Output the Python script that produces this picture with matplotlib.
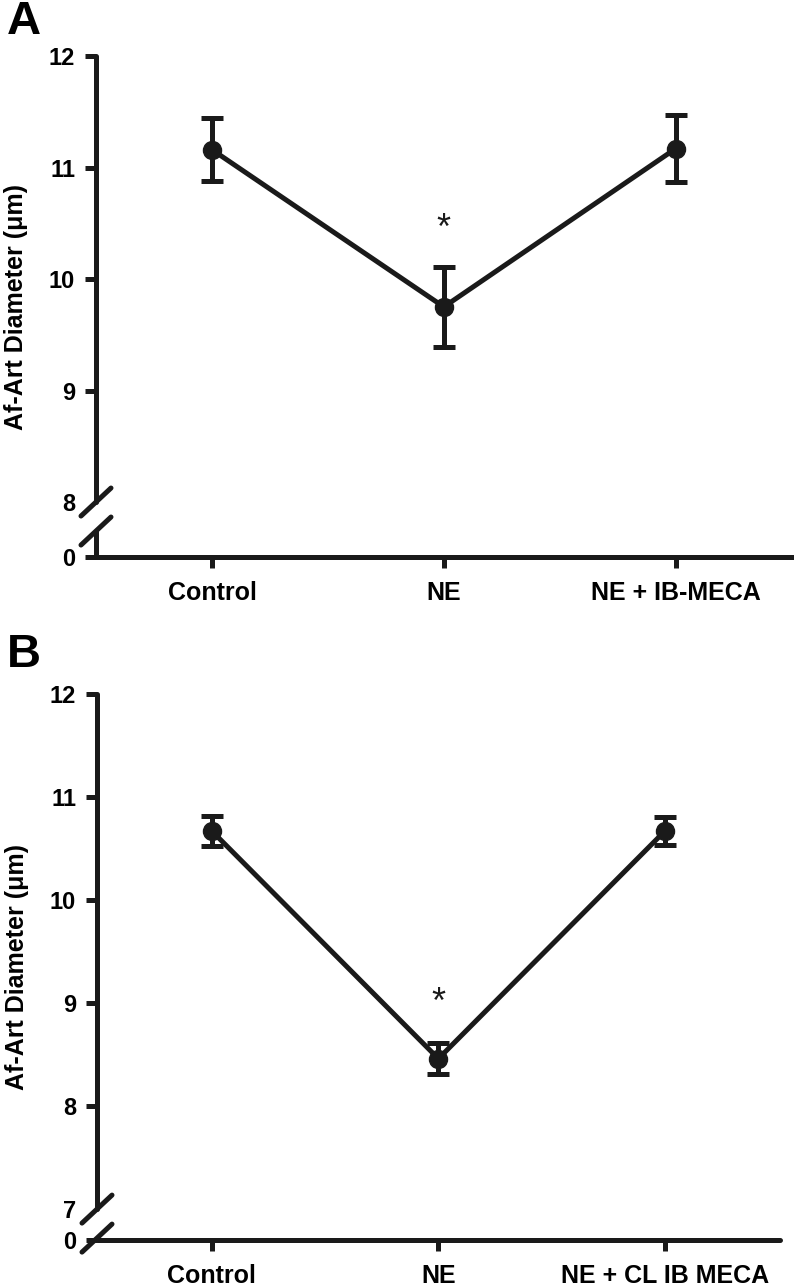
import matplotlib
matplotlib.use("Agg")
import matplotlib.pyplot as plt
import matplotlib.transforms as mtransforms

# panel A
groups_a = ["Control", "NE", "NE + IB-MECA"]
mean_a = [11.16, 9.75, 11.17]
sem_a = [0.28, 0.36, 0.30]
star_a = 10.44

# panel B
groups_b = ["Control", "NE", "NE + CL IB MECA"]
mean_b = [10.67, 8.46, 10.67]
sem_b = [0.15, 0.15, 0.14]
star_b = 9.0

W, H = 794, 1286
INK = "#1a1a1a"
LW = 3.6
plt.rcParams["font.family"] = ["Liberation Sans", "DejaVu Sans"]


def px_box(left, right, top, bottom):
    return [left / W, 1 - bottom / H, (right - left) / W, (bottom - top) / H]


def draw_panel(fig, box, groups, means, sems, star_y, ybot, ybreak, ytick_vals,
               xlim, letter, letter_xy, unit_px, ylab_x):
    ax = fig.add_axes(box)
    x = list(range(len(groups)))
    ax.errorbar(x, means, yerr=sems, fmt="-o", color=INK, lw=LW,
                ms=13, elinewidth=LW, capsize=8, capthick=LW,
                solid_capstyle="round")
    ax.text(1, star_y, "*", ha="center", va="center", fontsize=26, color=INK)

    ax.set_xlim(*xlim)
    ax.set_ylim(ybot, 12)
    for s in ["top", "right"]:
        ax.spines[s].set_visible(False)
    for s in ["left", "bottom"]:
        ax.spines[s].set_linewidth(LW)
        ax.spines[s].set_color(INK)
        ax.spines[s].set_capstyle("round")
    ax.spines["left"].set_bounds(ybreak, 12)

    ax.set_xticks(x)
    ax.set_xticklabels(groups, fontsize=18, fontweight="bold")
    ticks = [ybot, ybreak] + ytick_vals
    labels = ["0", str(int(ybreak))] + [str(v) for v in ytick_vals]
    ax.set_yticks(ticks)
    ax.set_yticklabels(labels, fontsize=17, fontweight="bold")
    ax.tick_params(axis="both", direction="out", length=8, width=LW, color=INK)
    ax.tick_params(axis="x", pad=9)
    ax.tick_params(axis="y", pad=7)
    ax.get_yticklines()[2].set_visible(False)

    ax.set_ylabel("Af-Art Diameter (\u03bcm)", fontsize=18, fontweight="bold")
    ax.yaxis.set_label_coords(ylab_x, 0.5)

    # axis break slashes on the y spine
    trans = mtransforms.blended_transform_factory(ax.transAxes, ax.transData)
    axw = box[2] * W
    dx = 15 / axw
    dy = 14 / unit_px
    low = ybreak - 29 / unit_px
    for yc in [ybreak, low]:
        ax.plot([-dx, dx], [yc - dy, yc + dy], transform=trans, color=INK,
                lw=LW, solid_capstyle="round", clip_on=False)
    ax.plot([0, 0], [ybot, low - 2 / unit_px], transform=trans,
            color=INK, lw=LW, clip_on=False)

    fig.text(letter_xy[0] / W, 1 - letter_xy[1] / H, letter, fontsize=34,
             fontweight="bold", ha="left", va="center")
    return ax


fig = plt.figure(figsize=(W / 100, H / 100), dpi=100)

draw_panel(fig, px_box(96, 794, 56, 557), groups_a, mean_a, sem_a, star_a,
           7.507, 8, [9, 10, 11, 12], (-0.5, 2.51), "A", (7, 22), 111.5,
           -0.097)
draw_panel(fig, px_box(97, 780, 694, 1240), groups_b, mean_b, sem_b, star_b,
           6.70, 7, [8, 9, 10, 11, 12], (-0.507, 2.508), "B", (7, 655), 103.0,
           -0.099)

fig.savefig("out.png", dpi=100)
